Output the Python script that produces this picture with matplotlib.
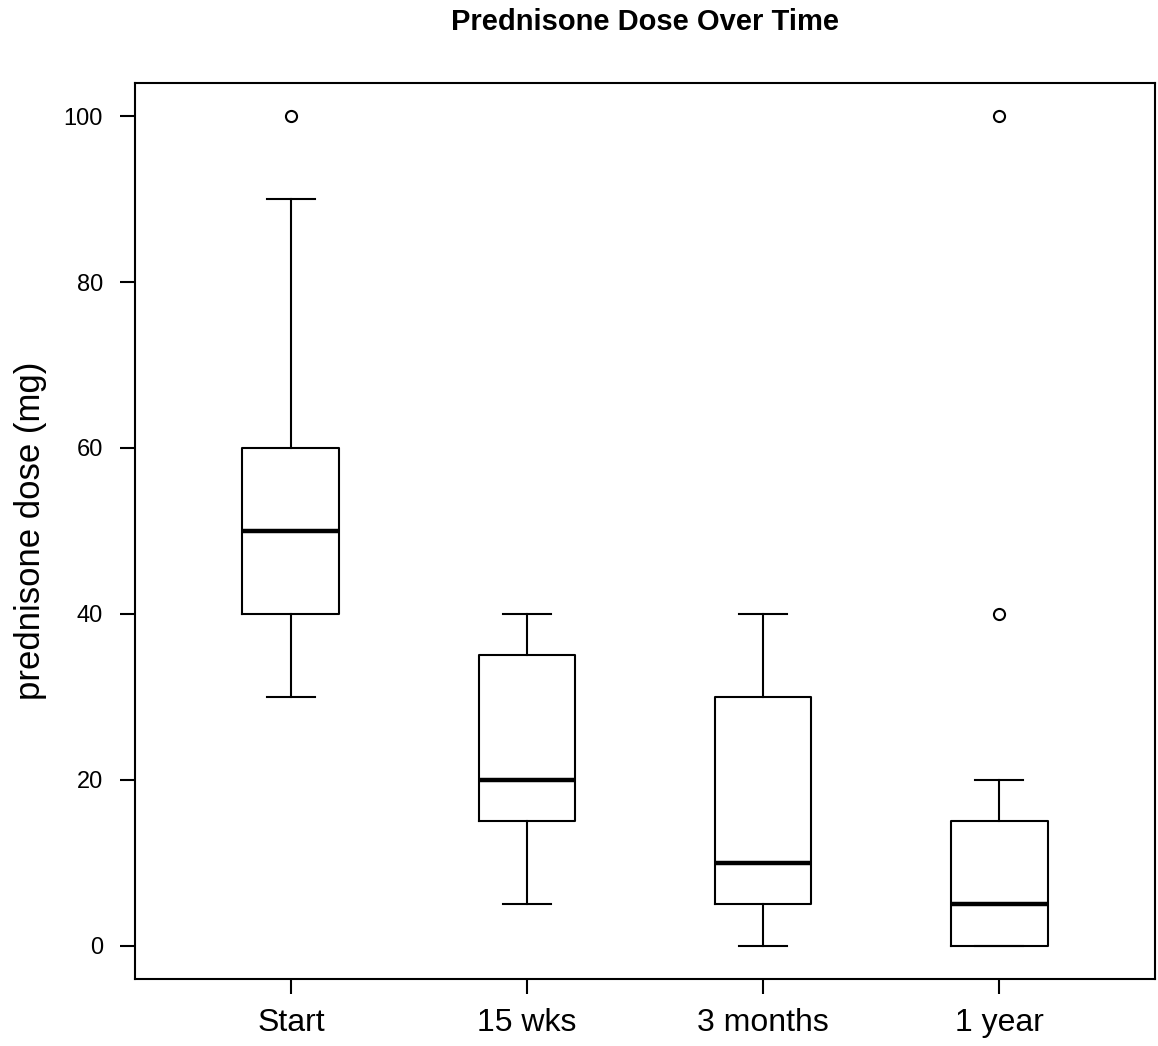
import matplotlib.pyplot as plt

plt.rcParams['font.family'] = ['Liberation Sans', 'DejaVu Sans']

# values
groups = ['Start', '15 wks', '3 months', '1 year']
whis_low = [30, 5, 0, 0]
q1 = [40, 15, 5, 0]
medians = [50, 20, 10, 5]
q3 = [60, 35, 30, 15]
whis_high = [90, 40, 40, 20]
outliers = [[100], [], [], [40, 100]]

stats = []
for i, name in enumerate(groups):
    stats.append({'label': name, 'whislo': whis_low[i], 'q1': q1[i], 'med': medians[i],
                  'q3': q3[i], 'whishi': whis_high[i], 'fliers': outliers[i]})

fig = plt.figure(figsize=(11.58, 10.46), dpi=100)
ax = fig.add_axes([0.1166, 0.0641, 0.8808, 0.8566])

ax.bxp(stats, positions=[1, 2, 3, 4], widths=0.41, showfliers=True,
       boxprops=dict(color='black', linewidth=1.5),
       medianprops=dict(color='black', linewidth=3.2, solid_capstyle='butt'),
       whiskerprops=dict(color='black', linewidth=1.5),
       capprops=dict(color='black', linewidth=1.5),
       flierprops=dict(marker='o', markerfacecolor='white', markeredgecolor='black',
                       markersize=8, markeredgewidth=1.5))

ax.set_xlim(0.34, 4.66)
ax.set_ylim(-4, 104)
ax.set_yticks([0, 20, 40, 60, 80, 100])
ax.set_xticks([1, 2, 3, 4])
ax.set_xticklabels(groups)
ax.tick_params(axis='y', labelsize=17, length=11, width=1.5, pad=12)
ax.tick_params(axis='x', labelsize=23, length=11, width=1.5, pad=10)
for s in ax.spines.values():
    s.set_linewidth(1.5)

ax.set_ylabel('prednisone dose (mg)', fontsize=25, labelpad=12)
# R centres the main title over the plot region, not the figure
fig.text(0.1166 + 0.8808 / 2, 1 - 22 / 1046, 'Prednisone Dose Over Time',
         fontsize=21, fontweight='bold', ha='center', va='center')

fig.savefig('out.png', dpi=100)
